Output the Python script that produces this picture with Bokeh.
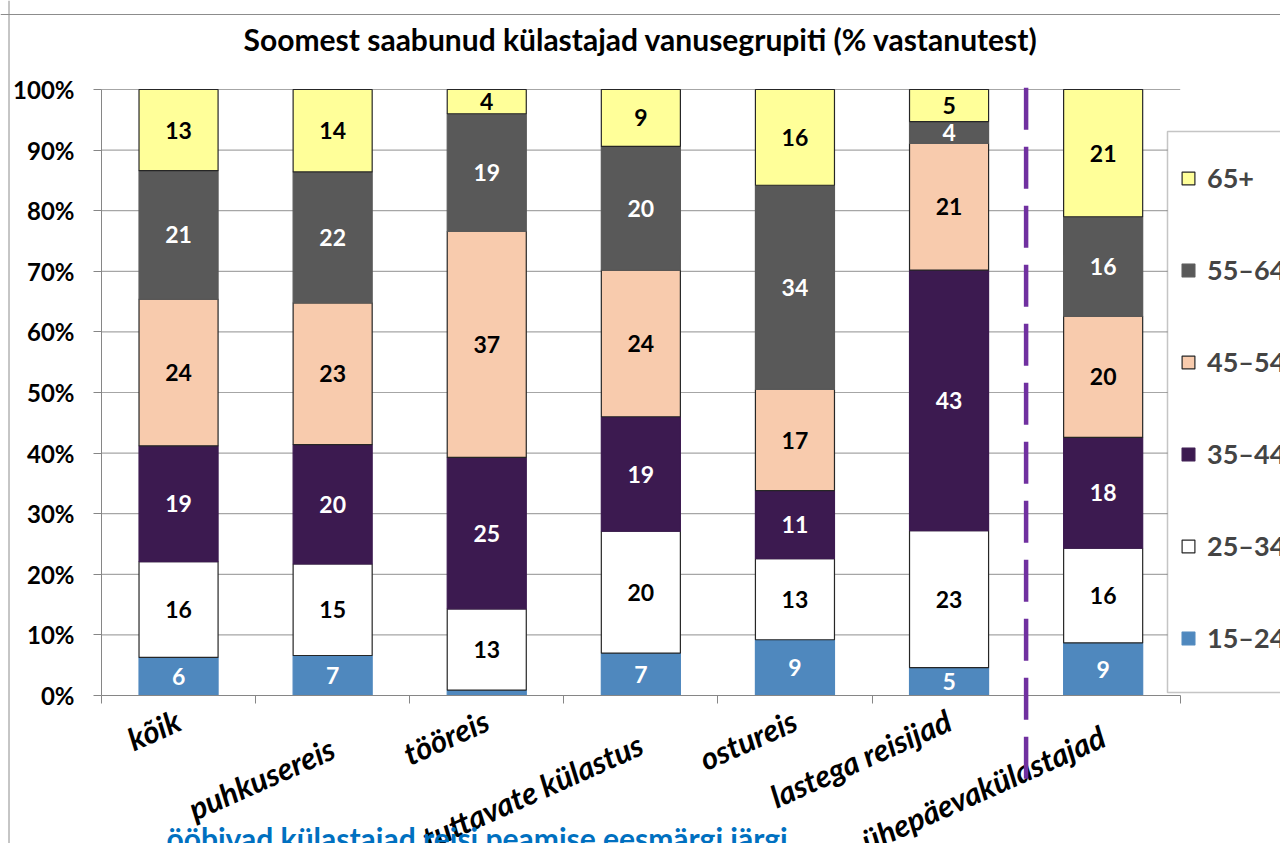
import numpy as np
from bokeh.plotting import figure
from bokeh.models import (ColumnDataSource, Range1d, FixedTicker, PrintfTickFormatter,
                          Legend, LegendItem, Label, Arrow, BoxAnnotation, Span, LinearAxis)
from bokeh.core.properties import value
from bokeh.embed import file_html
from bokeh.resources import INLINE

# ---------------- data ----------------
categories = ["kõik", "puhkusereis", "tööreis", "tuttavate külastus",
              "ostureis", "lastega reisijad", "ühepäevakülastajad"]
groups = ["15–24", "25–34", "35–44", "45–54", "55–64", "65+"]
g15_24 = [6.3, 6.6, 0.9, 7.0, 9.2, 4.6, 8.7]
g25_34 = [15.8, 15.1, 13.4, 20.1, 13.4, 22.6, 15.6]
g35_44 = [19.1, 19.7, 25.0, 18.9, 11.2, 43.0, 18.3]
g45_54 = [24.2, 23.4, 37.3, 24.2, 16.7, 20.9, 20.0]
g55_64 = [21.2, 21.6, 19.4, 20.4, 33.7, 3.6, 16.4]
g65 = [13.4, 13.6, 4.0, 9.4, 15.8, 5.3, 21.0]
y_ticks = [0, 10, 20, 30, 40, 50, 60, 70, 80, 90, 100]
title_text = "Soomest saabunud külastajad vanusegrupiti (% vastanutest)"
bottom_text = "ööbivad külastajad reisi peamise eesmärgi järgi"

series = [g15_24, g25_34, g35_44, g45_54, g55_64, g65]

# ---------------- styles / layout ----------------
fills = ["#4F88BE", "#FFFFFF", "#3C1A50", "#F8CBAD", "#595959", "#FFFF99"]
outlines = ["#4F88BE", "#262626", "#3C1A50", "#262626", "#595959", "#262626"]
label_colors = ["white", "black", "white", "black", "white", "black"]
label_drop = [0, 28, 0, 24, 0, 0, 16]   # extra standoff (px) of each category label
axis_color = "#868686"
grid_color = "#A6A6A6"
FONT = "Lato"

W, H = 1280, 843          # canvas size
X0, Y0 = 101, 695         # canvas pixel of data origin (x=0, y=0%)
UX, UY = 154.1, 6.06      # pixels per category / per percent

n = len(categories)
x = np.arange(n) + 0.5
vals = np.array(series, dtype=float)
vals = vals / vals.sum(axis=0) * 100.0
tops = np.cumsum(vals, axis=0)
bottoms = tops - vals

p = figure(width=W, height=H,
           x_range=Range1d(-X0 / UX, (W - X0) / UX),
           y_range=Range1d(-(H - Y0) / UY, Y0 / UY),
           output_backend="svg", toolbar_location=None,
           min_border=0)
p.outline_line_color = None
p.xgrid.visible = False
p.ygrid.visible = False
p.background_fill_color = "white"
p.border_fill_color = "white"

# outer chart border (top and left edges visible)
p.add_layout(Span(location=(Y0 - 14) / UY, dimension="width",
                  line_color="#8c8c8c", line_width=1))
p.add_layout(Span(location=-(X0 - 8.5) / UX, dimension="height",
                  line_color="#8c8c8c", line_width=1))

# gridlines
gt = [t for t in y_ticks if t > 0]
p.segment(x0=[0] * len(gt), x1=[n] * len(gt), y0=gt, y1=gt,
          line_color=grid_color, line_width=1.2)

renderers = []
for i, g in enumerate(groups):
    src = ColumnDataSource(dict(x=x, top=tops[i], bottom=bottoms[i]))
    r = p.vbar(x="x", top="top", bottom="bottom", width=0.513, source=src,
               fill_color=fills[i], line_color=outlines[i], line_width=1.2)
    renderers.append(r)

for i, g in enumerate(groups):
    raw = series[i]
    keep = [j for j in range(n) if raw[j] >= 2]
    src = ColumnDataSource(dict(
        x=[x[j] for j in keep],
        y=[(tops[i][j] + bottoms[i][j]) / 2 for j in keep],
        t=[str(int(raw[j] + 0.5)) for j in keep]))
    p.text(x="x", y="y", text="t", source=src, text_align="center",
           text_baseline="middle", text_color=label_colors[i],
           text_font=value(FONT), text_font_style="bold", text_font_size="23px")

# y axis (fixed at x = 0)
p.yaxis.fixed_location = 0
p.yaxis.ticker = FixedTicker(ticks=y_ticks)
p.yaxis.formatter = PrintfTickFormatter(format="%d%%")
p.yaxis.bounds = (0, 100)
p.yaxis.axis_line_color = axis_color
p.yaxis.major_tick_line_color = axis_color
p.yaxis.major_tick_out = 8
p.yaxis.major_tick_in = 0
p.yaxis.minor_tick_line_color = None
p.yaxis.major_label_text_font = FONT
p.yaxis.major_label_text_font_style = "bold"
p.yaxis.major_label_text_font_size = "24px"
p.yaxis.major_label_text_color = "black"
p.yaxis.major_label_standoff = 19


def style_cat_axis(ax, ticks, standoff):
    ax.fixed_location = 0
    ax.ticker = FixedTicker(ticks=[float(x[j]) for j in ticks])
    ax.major_label_overrides = {float(x[j]): categories[j] for j in ticks}
    ax.major_tick_line_color = None
    ax.major_tick_out = 8
    ax.major_tick_in = 0
    ax.minor_tick_line_color = None
    ax.major_label_orientation = 0.42
    ax.major_label_text_font = FONT
    ax.major_label_text_font_style = "bold italic"
    ax.major_label_text_font_size = "31px"
    ax.major_label_text_color = "black"
    ax.major_label_standoff = standoff


drops = sorted(set(label_drop))
main_ticks = [j for j in range(n) if label_drop[j] == drops[0]]
style_cat_axis(p.xaxis[0], main_ticks, 15)
p.xaxis.ticker = FixedTicker(ticks=[float(x[j]) for j in main_ticks],
                             minor_ticks=list(range(n + 1)))
p.xaxis.bounds = (0, n)
p.xaxis.axis_line_color = axis_color
p.xaxis.minor_tick_line_color = axis_color
p.xaxis.minor_tick_out = 8
p.xaxis.minor_tick_in = 0
for d in drops[1:]:
    ax = LinearAxis(axis_line_color=None)
    style_cat_axis(ax, [j for j in range(n) if label_drop[j] == d], 15 + d)
    p.add_layout(ax, "below")

# dashed separator between the two groups of bars
p.add_layout(Arrow(end=None, x_start=n - 1, y_start=100.3, x_end=n - 1, y_end=-14.9,
                   line_color="#7030A0", line_width=4.5, line_dash="42 17"))

# legend box + legend
p.add_layout(BoxAnnotation(left=(1167 - X0) / UX, right=9.0, bottom=(Y0 - 692) / UY,
                           top=(Y0 - 131) / UY,
                           fill_color="white", fill_alpha=1.0,
                           line_color="#404040", line_width=1.5))
legend = Legend(items=[LegendItem(label=groups[i], renderers=[renderers[i]])
                       for i in reversed(range(len(groups)))],
                location=(1180, 189), orientation="vertical",
                glyph_width=16, glyph_height=16, spacing=59,
                padding=0, border_line_color=None, background_fill_alpha=0,
                label_text_font=FONT, label_text_font_style="bold",
                label_text_font_size="27px", label_standoff=11)
p.add_layout(legend)

p.add_layout(Label(x=n / 2, y=(Y0 - 38) / UY, text=title_text, text_align="center",
                   text_baseline="middle", text_font=FONT, text_font_style="bold",
                   text_font_size="30px", text_color="black"))
p.add_layout(Label(x=(166 - X0) / UX, y=-(837 - Y0) / UY, text=bottom_text,
                   text_align="left", text_baseline="alphabetic", text_font=FONT,
                   text_font_style="bold", text_font_size="30px", text_color="#0070C0"))

open("out.html", "w").write(file_html(p, INLINE))
